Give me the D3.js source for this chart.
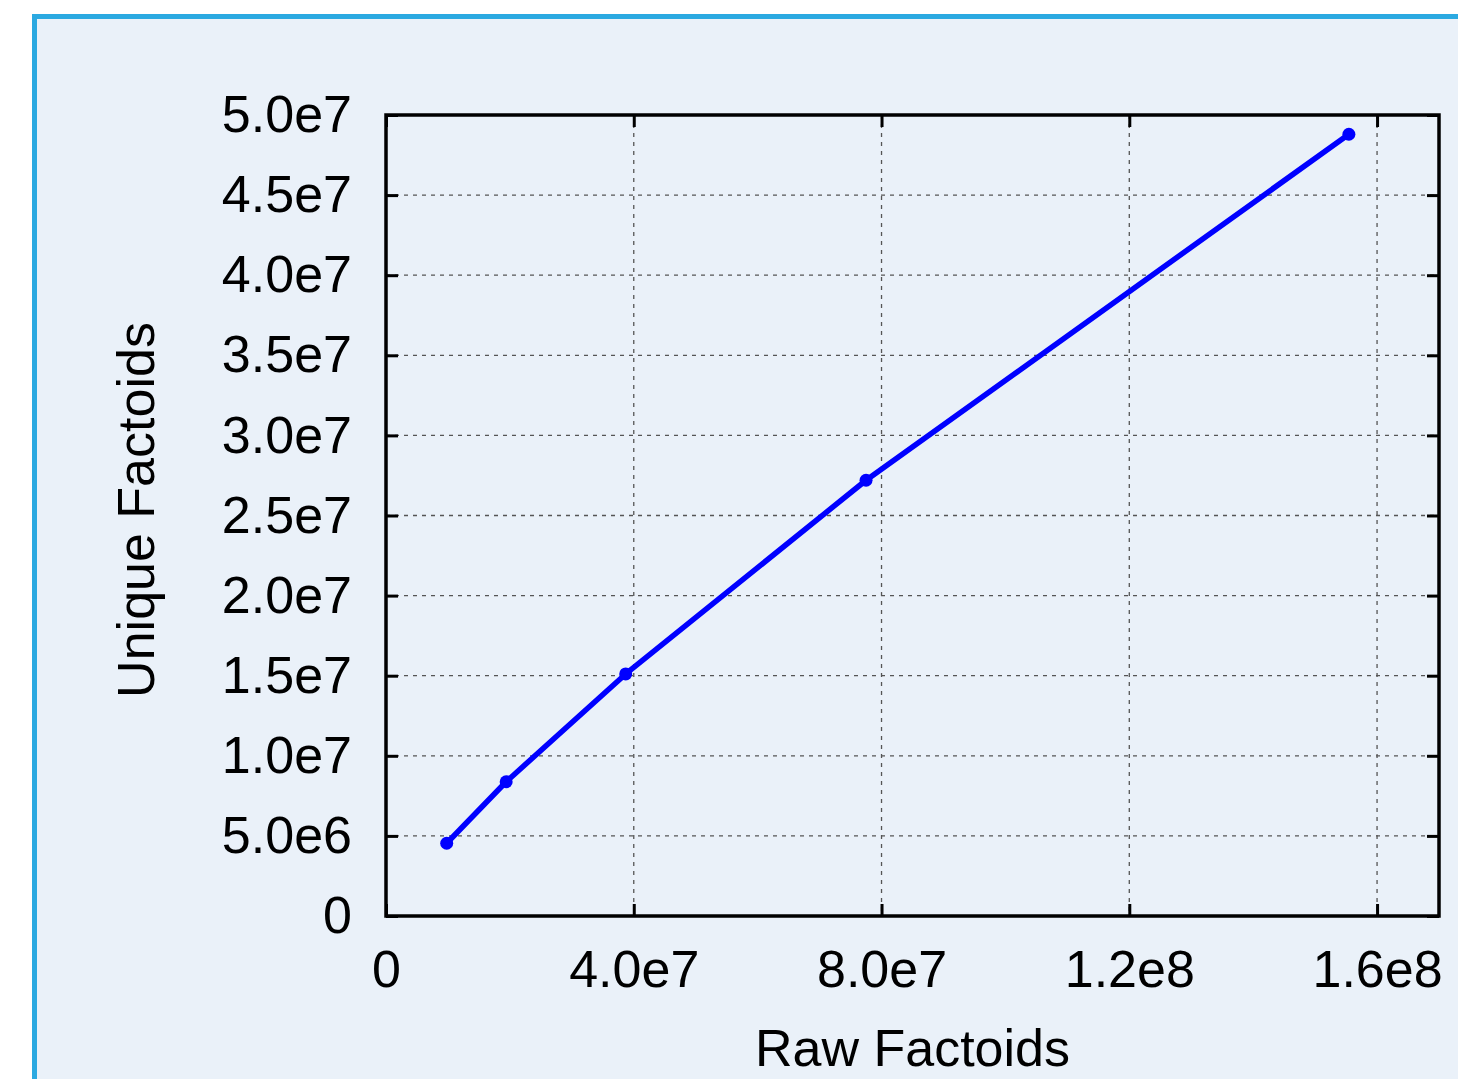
<!DOCTYPE html>
<html>
<head>
<meta charset="utf-8">
<script src="https://cdn.jsdelivr.net/npm/d3@7"></script>
<style>
  html, body { margin: 0; padding: 0; background: #fff; }
  svg { display: block; }
  text { font-family: "Liberation Sans", Arial, Helvetica, sans-serif; fill: #000; }
</style>
</head>
<body>
<svg id="chart" width="1458" height="1079"></svg>
<script>
// ---- data ----
const rawFactoids    = [9.8e6, 1.94e7, 3.87e7, 7.75e7, 1.5545e8];
const uniqueFactoids = [4.54e6, 8.38e6, 1.511e7, 2.72e7, 4.88e7];

const xTickValues = [0, 4e7, 8e7, 1.2e8, 1.6e8];
const xTickLabels = ["0", "4.0e7", "8.0e7", "1.2e8", "1.6e8"];
const yTickValues = [0, 5e6, 1e7, 1.5e7, 2e7, 2.5e7, 3e7, 3.5e7, 4e7, 4.5e7, 5e7];
const yTickLabels = ["0", "5.0e6", "1.0e7", "1.5e7", "2.0e7", "2.5e7", "3.0e7", "3.5e7", "4.0e7", "4.5e7", "5.0e7"];

const xTitle = "Raw Factoids";
const yTitle = "Unique Factoids";

// ---- layout ----
const W = 1458, H = 1079;
const plot = { left: 386, right: 1439, top: 115, bottom: 916 };

const svg = d3.select("#chart");

// panel background with cyan border
svg.append("rect").attr("x", 0).attr("y", 0).attr("width", W).attr("height", H).attr("fill", "#fff");
svg.append("rect")
  .attr("x", 34.5).attr("y", 16.5)
  .attr("width", W + 20).attr("height", H + 20)
  .attr("fill", "#eaf1f9")
  .attr("stroke", "#2ba9e1")
  .attr("stroke-width", 5);

const x = d3.scaleLinear().domain([0, 1.7e8]).range([plot.left, plot.right]);
const y = d3.scaleLinear().domain([0, 5e7]).range([plot.bottom, plot.top]);

// grid lines
const grid = svg.append("g")
  .attr("stroke", "#555")
  .attr("stroke-width", 1.3)
  .attr("stroke-dasharray", "4,5");
grid.selectAll("line.gx").data(xTickValues.filter(v => v > 0)).join("line")
  .attr("x1", d => x(d)).attr("x2", d => x(d))
  .attr("y1", plot.top).attr("y2", plot.bottom);
grid.selectAll("line.gy").data(yTickValues.filter(v => v > 0 && v < 5e7)).join("line")
  .attr("x1", plot.left).attr("x2", plot.right)
  .attr("y1", d => y(d)).attr("y2", d => y(d));

// axes
const fmtX = d => xTickLabels[xTickValues.indexOf(d)];
const fmtY = d => yTickLabels[yTickValues.indexOf(d)];

function styleAxis(g) {
  g.select(".domain").remove();
  g.selectAll(".tick line").attr("stroke", "#000").attr("stroke-width", 3);
  g.selectAll(".tick text")
    .attr("fill", "#000")
    .style("font-family", '"Liberation Sans", Arial, Helvetica, sans-serif')
    .style("font-size", "52px");
}

svg.append("g").attr("transform", `translate(0,${plot.bottom})`)
  .call(d3.axisBottom(x).tickValues(xTickValues).tickFormat(fmtX).tickSize(-12).tickPadding(34))
  .call(styleAxis);
svg.append("g").attr("transform", `translate(0,${plot.top})`)
  .call(d3.axisTop(x).tickValues(xTickValues).tickFormat("").tickSize(-12))
  .call(styleAxis);
svg.append("g").attr("transform", `translate(${plot.left},0)`)
  .call(d3.axisLeft(y).tickValues(yTickValues).tickFormat(fmtY).tickSize(-12).tickPadding(34))
  .call(styleAxis);
svg.append("g").attr("transform", `translate(${plot.right},0)`)
  .call(d3.axisRight(y).tickValues(yTickValues).tickFormat("").tickSize(-12))
  .call(styleAxis);

// frame
svg.append("rect")
  .attr("x", plot.left).attr("y", plot.top)
  .attr("width", plot.right - plot.left).attr("height", plot.bottom - plot.top)
  .attr("fill", "none").attr("stroke", "#000").attr("stroke-width", 3.5);

// series
const pts = rawFactoids.map((v, i) => [v, uniqueFactoids[i]]);
svg.append("path")
  .datum(pts)
  .attr("fill", "none")
  .attr("stroke", "#0000ff")
  .attr("stroke-width", 5.5)
  .attr("stroke-linejoin", "round")
  .attr("d", d3.line().x(d => x(d[0])).y(d => y(d[1])));
svg.selectAll("circle.pt").data(pts).join("circle")
  .attr("class", "pt")
  .attr("cx", d => x(d[0])).attr("cy", d => y(d[1]))
  .attr("r", 6.5)
  .attr("fill", "#0000ff");

// titles
svg.append("text")
  .attr("x", 912.5).attr("y", 1066)
  .attr("text-anchor", "middle")
  .style("font-size", "52px")
  .text(xTitle);
svg.append("text")
  .attr("transform", "translate(154,510) rotate(-90)")
  .attr("text-anchor", "middle")
  .style("font-size", "52px")
  .text(yTitle);
</script>
</body>
</html>
